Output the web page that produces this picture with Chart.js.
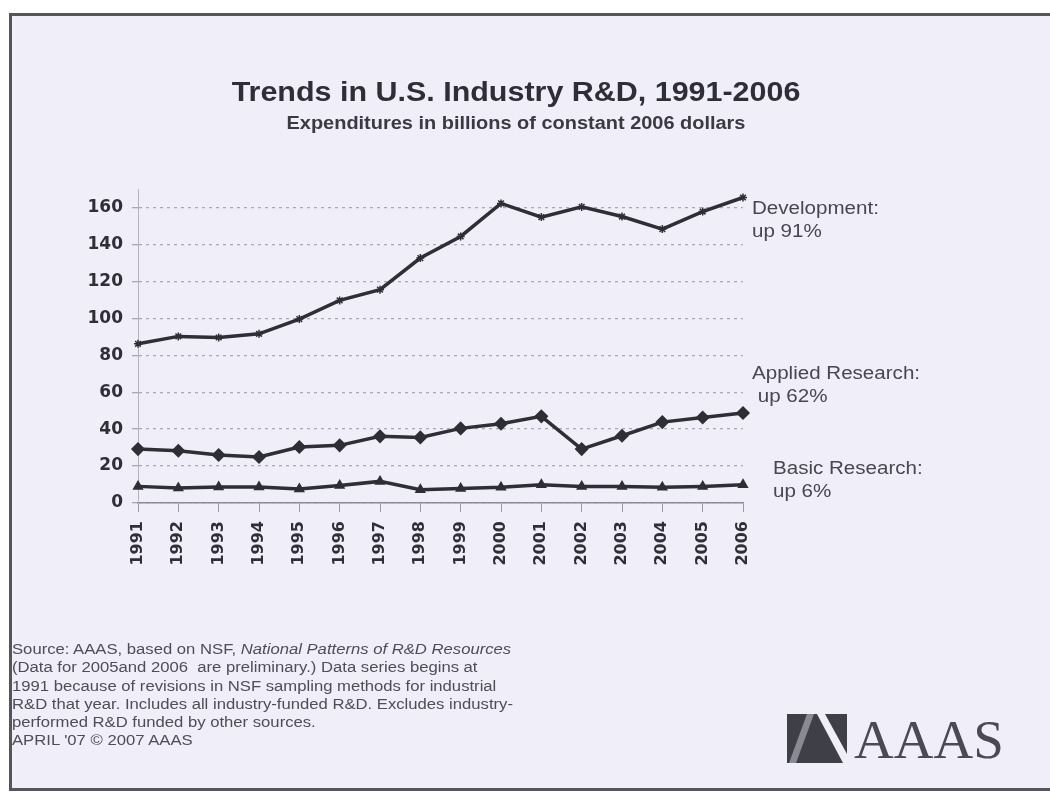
<!DOCTYPE html>
<html lang="en">

<head>
    <meta charset="UTF-8">
    <script src="https://cdn.jsdelivr.net/npm/chart.js"></script>
    <title>Trends in U.S. Industry R&D</title>
    <style>
        body { margin: 0; background: #ffffff; font-family: "Liberation Sans", Arial, sans-serif; }
        .page { position: relative; width: 1050px; height: 802px; overflow: hidden; }
        .frame {
            position: absolute; left: 9px; top: 13px; width: 1060px; height: 772px;
            background: #efeef9; border: 3px solid #55555c; border-right: none;
        }
        .wrap { position: absolute; left: 0; top: 0; width: 1050px; height: 802px; }
        .txt { position: absolute; color: #3c3c44; white-space: nowrap; }
        .titulo { left: 516px; top: 77px; transform: translateX(-50%) scaleX(1.128); font-size: 27px; font-weight: bold; color: #2e2e36; }
        .subtitulo { left: 516px; top: 113px; transform: translateX(-50%) scaleX(1.14); font-size: 17.5px; font-weight: bold; color: #3a3a42; }
        .nota { font-size: 17.5px; line-height: 22.5px; color: #47474f; transform: scaleX(1.175); transform-origin: 0 0; }
        .fonte { left: 12px; top: 640px; font-size: 14px; line-height: 18.3px; color: #4e4e56; transform: scaleX(1.19); transform-origin: 0 0; }
        .logo { left: 854px; top: 708px; font-family: "Liberation Serif", "DejaVu Serif", serif; font-size: 55px; color: #4a4a55; }
        .icone { position: absolute; left: 787px; top: 714px; }
    </style>
</head>

<body>
    <div class="page">
        <div class="frame"></div>
        <div class="wrap"><canvas id="myChart"></canvas></div>

        <div class="txt titulo">Trends in U.S. Industry R&amp;D, 1991-2006</div>
        <div class="txt subtitulo">Expenditures in billions of constant 2006 dollars</div>

        <div class="txt nota" style="left:752px; top:197px;">Development:<br>up 91%</div>
        <div class="txt nota" style="left:752px; top:362px;">Applied Research:<br>&nbsp;up 62%</div>
        <div class="txt nota" style="left:773px; top:457px;">Basic Research:<br>up 6%</div>

        <div class="txt fonte">Source: AAAS, based on NSF, <i>National Patterns of R&amp;D Resources</i><br>
            (Data for 2005and 2006&nbsp; are preliminary.) Data series begins at<br>
            1991 because of revisions in NSF sampling methods for industrial<br>
            R&amp;D that year. Includes all industry-funded R&amp;D. Excludes industry-<br>
            performed R&amp;D funded by other sources.<br>
            APRIL '07 &copy; 2007 AAAS</div>

        <svg class="icone" width="60" height="49" viewBox="0 0 60 49">
            <rect x="0" y="0" width="60" height="49" fill="#3f3f47" />
            <polygon points="20,0 27,0 9,49 2,49" fill="#8a8a94" />
            <polygon points="30,0 38,0 60,40 60,49 56,49" fill="#efeef9" />
        </svg>
        <div class="txt logo">AAAS</div>
    </div>
</body>

</html>
<script>
    // anos e valores (bilhões de dólares de 2006)
    var anos = ['1991', '1992', '1993', '1994', '1995', '1996', '1997', '1998',
        '1999', '2000', '2001', '2002', '2003', '2004', '2005', '2006']
    var desenvolvimento = [86.2, 90.2, 89.6, 91.6, 99.6, 109.7, 115.5, 132.6,
        144.3, 162.2, 154.8, 160.3, 155.1, 148.3, 157.8, 165.4]
    var pesquisaAplicada = [29.2, 28.3, 26.0, 24.9, 30.3, 31.2, 36.1, 35.5,
        40.4, 42.9, 46.9, 29.2, 36.4, 43.8, 46.3, 48.7]
    var pesquisaBasica = [9.0, 8.1, 8.7, 8.7, 7.6, 9.5, 11.7, 7.2,
        7.9, 8.5, 9.9, 9.0, 9.0, 8.5, 9.0, 9.9]
    var ticksY = [0, 20, 40, 60, 80, 100, 120, 140, 160]

    var corLinha = '#2e2e35'

    function serie(nome, valores, estilo, raio) {
        return {
            label: nome,
            data: valores,
            borderColor: corLinha,
            backgroundColor: corLinha,
            borderWidth: 3.5,
            pointStyle: estilo,
            pointRadius: raio,
            pointBorderWidth: 1.5,
            pointBorderColor: corLinha,
            pointBackgroundColor: corLinha,
            tension: 0,
            clip: false
        }
    }

    let dados = {
        labels: anos,
        datasets: [
            serie('Development', desenvolvimento, 'star', 4),
            serie('Applied Research', pesquisaAplicada, 'rectRot', 6),
            serie('Basic Research', pesquisaBasica, 'triangle', 5)
        ]
    }

    const config = {
        type: 'line',
        data: dados,
        options: {
            responsive: true,
            maintainAspectRatio: false,
            animation: false,
            layout: { padding: { left: 68, right: 307, top: 189, bottom: 219 } },
            plugins: {
                legend: { display: false },
                tooltip: { enabled: false }
            },
            scales: {
                x: {
                    afterFit: function (escala) { escala.height = 80 },
                    grid: { drawOnChartArea: false, drawTicks: true, tickLength: 9, color: '#9a9aa4' },
                    border: { color: '#8c8c96', width: 1.5 },
                    ticks: {
                        minRotation: 90, maxRotation: 90, padding: 9,
                        color: '#2f2f37',
                        font: { family: 'DejaVu Sans', size: 16, weight: 'bold' }
                    }
                },
                y: {
                    min: 0,
                    max: 170,
                    afterFit: function (escala) { escala.width = 70 },
                    afterBuildTicks: function (escala) {
                        escala.ticks = ticksY.map(function (v) { return { value: v } })
                    },
                    grid: { color: 'rgba(85,85,95,0.45)', lineWidth: 1.3, tickLength: 6 },
                    // em Chart.js v4 o "dash" do border vale para as linhas de grade
                    border: { color: '#b4b4bd', width: 1, dash: [3, 4] },
                    ticks: {
                        padding: 9,
                        color: '#2f2f37',
                        font: { family: 'DejaVu Sans', size: 17, weight: 'bold' }
                    }
                }
            }
        }
    }

    let myChart = new Chart(document.getElementById('myChart'), config)
</script>
